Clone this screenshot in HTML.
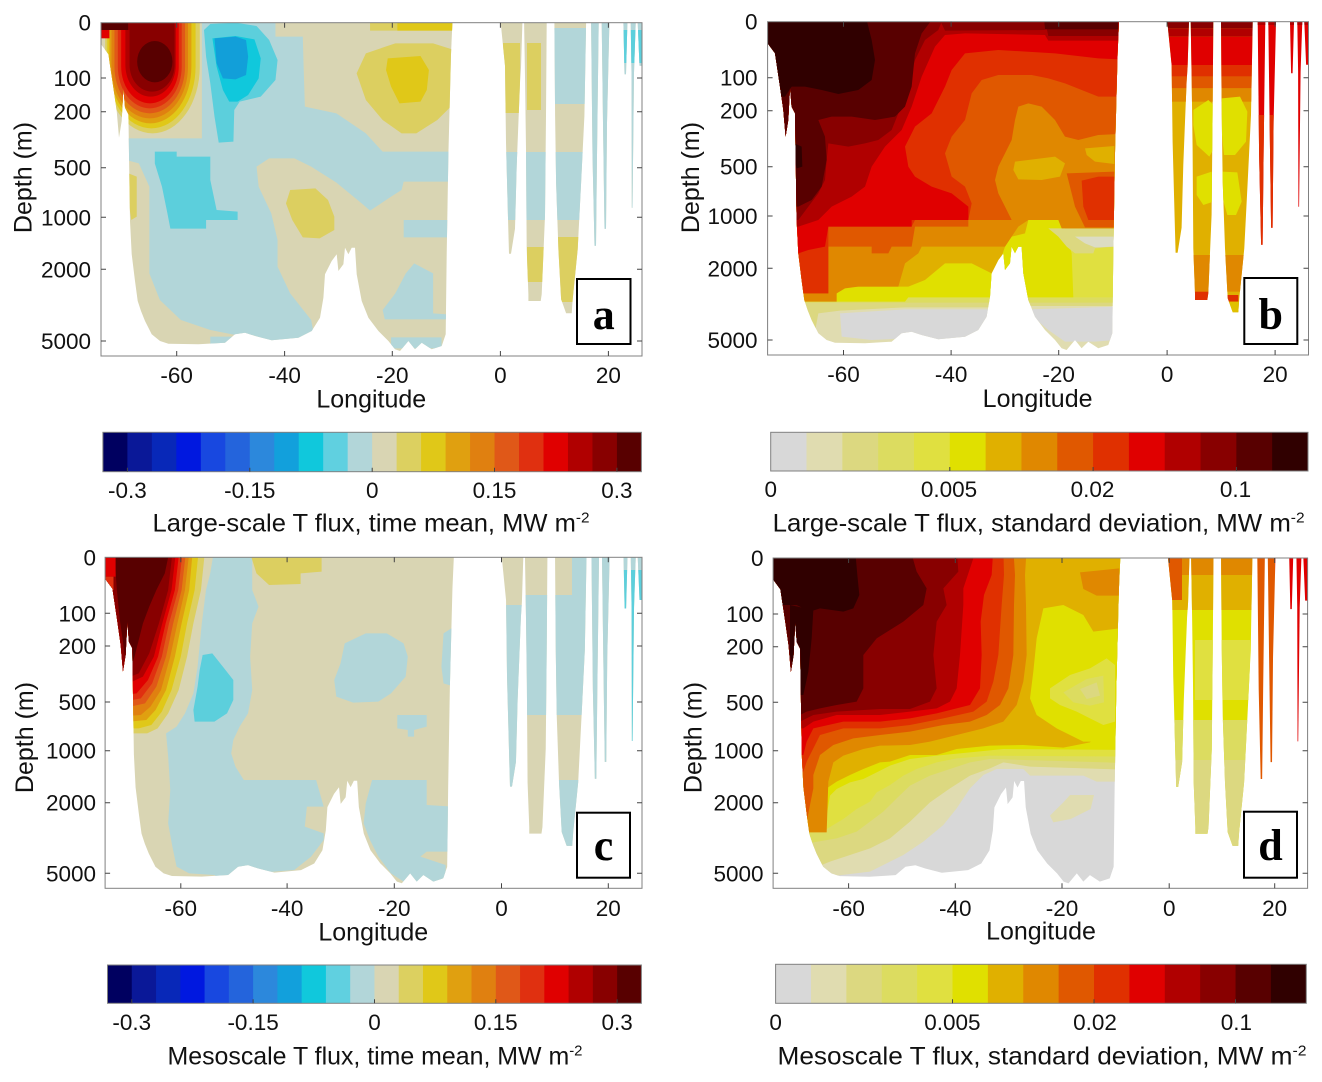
<!DOCTYPE html>
<html><head><meta charset="utf-8"><style>
html,body{margin:0;padding:0;background:#fff;}
svg{display:block;font-family:"Liberation Sans",Arial,sans-serif;}
.t{font-size:22.5px;fill:#111;}
.l{font-size:25px;fill:#111;}
.ax{fill:none;stroke:#808080;stroke-width:1;}
.tk{stroke:#444;stroke-width:1;}
.lt{font-family:"Liberation Serif","Times New Roman",serif;font-weight:bold;font-size:44px;fill:#000;}
</style></head><body>
<svg width="1322" height="1082" viewBox="0 0 1322 1082" xmlns="http://www.w3.org/2000/svg">
<defs>
<path id="m" d="M0,0 L351.4,0 L350,31.6 L347.4,131.6 L345.7,231.6 L344.7,311.6 L340.7,323.3 L330.7,326.6 L320.7,320 L314,326.6 L307.4,318.3 L299,328.3 L294,326.6 L287.4,318.3 L277.4,308.3 L267.4,295 L260.7,278.3 L255.7,251.6 L254,225 L250.7,225 L247.4,231.6 L244,225 L242.4,241.6 L237.4,248.3 L235.7,231.6 L230.7,238.3 L224,251.6 L222.4,275 L219,295 L210.7,308.3 L197.4,315 L170.7,317.6 L154,313.3 L144,310 L134,311.6 L124,320 L97.4,321.6 L67.4,321 L59,318.3 L50.7,311.6 L44,298.3 L40,288.3 L36.7,278.3 L34,258.3 L30.7,231.6 L29,198.3 L27.4,91.6 L24,85 L22.4,65 L20.7,98.3 L18,115 L15.7,88.3 L12.4,65 L7.4,31.6 L0,21.6 Z
M399.7,0 L421.4,0 L420,45 L419,60 L415.7,143 L414,206 L410,231 L408,231 L407.4,210 L405,120 L404,43 Z
M423.1,0 L445.7,0 L445,93 L444,193 L440.7,271.6 L439.7,278.3 L427.4,278.3 L427.4,271.6 L425.7,226.6 L425,126.6 L424.1,60 Z
M453.4,0 L485.1,0 L483.4,93.3 L480.1,160 L476.7,226.6 L471.7,276.6 L470.7,290.6 L465.1,290.6 L460.1,276.6 L457.4,226.6 L455.1,160 L454.1,93.3 Z
M490.1,0 L497.7,0 L496,133 L495,223 L493.5,223 L491.5,133 Z
M500.7,0 L508.4,0 L506,100 L505,206 L503.5,206 L502,100 Z
M522.4,0 L526.4,0 L525,51.6 L523.5,51.6 Z
M529.7,0 L534.7,0 L533,50 L531.5,185 L530.8,185 L530.5,50 Z
M536.7,0 L541,0 L541,43 L538.5,43 Z"/>
<clipPath id="ca"><use href="#m" transform="translate(101,22.7)"/></clipPath>
<clipPath id="cb"><use href="#m" transform="translate(767.6,21.7)"/></clipPath>
<clipPath id="cc"><use href="#m" transform="translate(105.1,557.3) scale(0.9924,0.993)"/></clipPath>
<clipPath id="cd"><use href="#m" transform="translate(773.1,558) scale(0.988,0.991)"/></clipPath>
</defs>

<!-- ================= PANEL A ================= -->
<g clip-path="url(#ca)">
<g transform="matrix(0.4204,0,0,0.33333,0.1,0)">
<rect x="200" y="0" width="1400" height="1100" fill="#d9d5b3"/>
<path fill="#b2d6d9" d="M480,60 L655,60 L655,110 L720,110 L722,200 L725,320 L800,340 L870,400 L910,455 L1080,455 L1080,545 L960,545 L955,570 L930,590 L880,632 L860,610 L800,548 L740,500 L700,475 L640,475 L610,500 L615,560 L645,640 L660,720 L660,800 L690,880 L740,960 L745,995 L745,1020 L640,1022 L600,1005 L560,1005 L500,990 L430,960 L380,900 L355,820 L355,560 L330,490 L300,480 L300,415 L480,415 Z"/>
<path fill="#b2d6d9" d="M985,790 L1030,820 L1030,940 L1080,945 L1080,958 L915,958 L910,930 L940,880 L965,820 Z M960,660 L1080,660 L1080,712 L960,712 Z M930,1012 L1050,1012 L1050,1045 L930,1045 Z M500,1010 L560,1010 L555,1050 L500,1050 Z"/>
<path fill="#5ccfdc" d="M485,90 L500,72 L560,68 L610,78 L640,120 L660,180 L655,240 L620,290 L570,305 L557,330 L555,425 L520,428 L510,350 L500,250 L490,170 Z"/>
<path fill="#10c8dc" d="M505,115 L560,108 L605,118 L620,175 L615,235 L590,285 L565,305 L545,305 L530,270 L515,200 Z"/>
<path fill="#129fd9" d="M510,115 L560,110 L585,120 L590,170 L585,225 L560,238 L530,235 L515,190 Z"/>
<path fill="#5ccfdc" d="M368,455 L420,455 L420,470 L500,470 L500,540 L515,630 L565,635 L565,660 L490,660 L490,686 L405,686 L398,640 L385,560 L368,490 Z"/>
<path fill="#dccf60" d="M690,570 L750,565 L780,600 L795,650 L795,690 L760,715 L720,712 L695,660 L680,610 Z M305,520 L325,530 L325,650 L312,660 L305,600 Z M870,160 L940,130 L1030,130 L1080,150 L1080,310 L1040,360 L990,400 L955,400 L910,360 L870,300 L848,220 Z M880,60 L1080,60 L1080,92 L880,92 Z"/>
<path fill="#e0c818" d="M922,175 L1000,168 L1020,210 L1015,270 L1000,305 L950,310 L930,260 L918,210 Z M945,60 L1080,60 L1080,92 L945,92 Z"/>
<path fill="#dccf60" d="M250,0 L250,200 A112.5,200 0 0 0 475,200 L475,0 Z"/>
<path fill="#e0c818" d="M255,0 L255,200 A105,185 0 0 0 465,200 L465,0 Z"/>
<path fill="#e0a010" d="M260,0 L260,200 A97.5,170 0 0 0 455,200 L455,0 Z"/>
<path fill="#e08010" d="M265,0 L265,200 A91,155 0 0 0 447,200 L447,0 Z"/>
<path fill="#e05818" d="M272,0 L272,200 A84,140 0 0 0 440,200 L440,0 Z"/>
<path fill="#e03010" d="M280,0 L280,200 A76,125 0 0 0 432,200 L432,0 Z"/>
<path fill="#e00000" d="M288,0 L288,200 A68.5,110 0 0 0 425,200 L425,0 Z"/>
<path fill="#b00000" d="M298,0 L298,195 A60,95 0 0 0 418,195 L418,0 Z"/>
<path fill="#880000" d="M308,0 L308,195 A53.5,80 0 0 0 415,195 L415,0 Z"/>
<ellipse cx="368" cy="185" rx="42" ry="62" fill="#580000"/>
<rect x="230" y="55" width="75" height="35" fill="#580000"/>
<rect x="305" y="55" width="30" height="35" fill="#880000"/>
<rect x="230" y="90" width="30" height="25" fill="#e00000"/>
</g>
<rect x="503" y="43" width="17" height="70" fill="#dccf60"/>
<rect x="527" y="43" width="14" height="67" fill="#dccf60"/>
<rect x="498" y="152" width="92" height="68" fill="#b2d6d9"/>
<rect x="552" y="28" width="38" height="76" fill="#b2d6d9"/>
<rect x="527" y="247" width="19" height="35" fill="#dccf60"/>
<rect x="555" y="237" width="30" height="65" fill="#dccf60"/>
<rect x="589" y="22" width="60" height="340" fill="#b2d6d9"/>
<rect x="620" y="30" width="25" height="33" fill="#5ccfdc"/>
</g>

<!-- ================= PANEL B ================= -->
<g clip-path="url(#cb)">
<g transform="matrix(0.33333,0,0,0.33333,765,20)">
<rect x="-20" y="-20" width="1140" height="1100" fill="#e0dcb0"/>
<path fill="#d8d8d8" d="M225,880 L420,868 L670,868 L690,900 L670,940 L600,955 L520,960 L460,950 L420,955 L320,960 L230,950 Z M795,868 L1050,860 L1050,960 L990,965 L900,965 L850,930 L815,900 Z"/>
<path fill="#dcd880" d="M-20,-20 L1100,-20 L1100,858 L795,858 L680,862 L420,862 L225,872 L160,880 L150,935 L-20,935 Z"/>
<path fill="#dcdc60" d="M-20,-20 L1100,-20 L1100,848 L-20,848 Z"/>
<path fill="#e0e040" d="M-20,-20 L1100,-20 L1100,832 L-20,832 Z"/>
<path fill="#e0e000" d="M-20,-20 L1100,-20 L1100,625 L1000,625 L960,648 L905,648 L920,700 L925,832 L700,832 L430,832 L420,845 L215,845 L-20,845 Z"/>
<path fill="#dcd880" d="M850,625 L1048,625 L1048,680 L990,685 L985,700 L930,700 L905,680 L880,650 Z"/>
<path fill="#dcdcc4" d="M930,650 L1048,650 L1048,680 L990,682 L960,670 Z"/>
<path fill="#e0b000" d="M-20,-20 L1100,-20 L1100,625 L900,625 L890,600 L790,600 L780,640 L740,650 L720,680 L700,740 L680,760 L620,730 L540,730 L480,780 L430,800 L240,800 L215,820 L120,820 L-20,820 Z"/>
<path fill="#e08800" d="M-20,-20 L1100,-20 L1100,625 L890,625 L880,600 L790,600 L760,620 L740,650 L720,680 L470,680 L460,700 L420,730 L400,800 L280,800 L240,805 L215,820 L215,845 L-20,845 Z"/>
<path fill="#e0b000" d="M750,425 L870,410 L900,430 L885,470 L830,480 L760,478 L745,450 Z M960,385 L1048,378 L1048,432 L990,425 L965,405 Z"/>
<path fill="#e05800" d="M-20,-20 L1100,-20 L1100,340 L1000,345 L940,360 L900,350 L870,300 L830,260 L790,250 L760,260 L750,300 L740,360 L720,400 L700,440 L690,480 L700,520 L720,560 L740,600 L610,600 L610,620 L450,620 L440,680 L380,680 L370,700 L320,700 L320,680 L190,680 L190,820 L-20,820 Z"/>
<path fill="#e05800" d="M905,460 L1048,455 L1048,622 L960,622 L930,560 Z"/>
<path fill="#e03000" d="M950,482 L1000,470 L1048,470 L1048,600 L970,600 L955,560 Z"/>
<path fill="#e03000" d="M-20,-20 L1100,-20 L1100,230 L1000,230 L950,210 L900,190 L850,175 L800,165 L700,165 L650,180 L620,220 L600,300 L560,350 L540,400 L560,470 L600,500 L620,550 L610,600 L450,600 L440,620 L190,620 L190,820 L-20,820 Z"/>
<path fill="#e00000" d="M-20,-20 L1100,-20 L1100,120 L1000,115 L870,100 L700,90 L600,100 L560,150 L540,200 L500,280 L450,320 L420,380 L430,440 L450,470 L500,500 L560,520 L610,560 L610,600 L440,600 L440,620 L190,620 L180,680 L130,690 L100,700 L-20,700 Z"/>
<path fill="#b00000" d="M-20,-20 L1060,-20 L1060,62 L850,62 L840,45 L600,40 L540,45 L510,80 L470,170 L440,260 L410,330 L360,380 L320,440 L300,500 L260,530 L200,560 L160,600 L100,620 L-20,620 Z"/>
<path fill="#880000" d="M-20,-20 L540,-20 L520,30 L480,60 L450,120 L420,220 L400,280 L380,330 L340,360 L300,370 L250,380 L190,370 L185,420 L180,480 L160,520 L130,560 L100,600 L-20,600 Z M515,-20 L835,-20 L840,30 L540,32 Z M835,-20 L1060,-20 L1060,48 L850,48 Z"/>
<path fill="#580000" d="M-20,-20 L515,-20 L470,40 L450,100 L440,200 L420,260 L390,290 L330,300 L260,290 L200,290 L160,300 L180,350 L185,420 L170,500 L140,540 L100,560 L-20,560 Z M835,-20 L1060,-20 L1060,28 L840,28 Z"/>
<path fill="#300000" d="M-20,-20 L300,-20 L320,60 L330,120 L320,180 L280,210 L220,222 L170,210 L120,200 L80,200 L60,230 L-20,230 Z M88,370 L110,380 L112,440 L95,445 L88,420 Z"/>
</g>
<g transform="matrix(0.33333,0,0,0.33333,1150,15)">
<rect x="40" y="0" width="275" height="1000" fill="#e0b000"/>
<rect x="40" y="0" width="275" height="40" fill="#880000"/>
<rect x="40" y="40" width="275" height="25" fill="#b00000"/>
<rect x="40" y="65" width="275" height="85" fill="#e00000"/>
<rect x="40" y="150" width="275" height="35" fill="#e03000"/>
<rect x="40" y="185" width="275" height="35" fill="#e05800"/>
<rect x="40" y="220" width="275" height="40" fill="#e08800"/>
<path fill="#e0e000" d="M130,285 L175,255 L195,275 L192,400 L178,425 L140,390 L130,330 Z M215,250 L270,245 L292,290 L288,380 L255,420 L222,420 L215,350 Z M140,485 L185,470 L190,560 L160,570 L140,540 Z M215,470 L262,472 L275,560 L258,600 L232,600 L215,540 Z"/>
<rect x="40" y="720" width="275" height="110" fill="#e08800"/>
<rect x="120" y="830" width="80" height="40" fill="#e03000"/>
<rect x="215" y="840" width="50" height="20" fill="#e03000"/>
<rect x="225" y="860" width="45" height="40" fill="#e0c000"/>
<rect x="315" y="0" width="200" height="1000" fill="#e00000"/>
<rect x="315" y="0" width="200" height="30" fill="#b00000"/>
<rect x="315" y="300" width="120" height="700" fill="#e03000"/>
</g>
</g>

<!-- ================= PANEL C ================= -->
<g clip-path="url(#cc)">
<g transform="matrix(0.4204,0,0,0.33333,0,540)">
<rect x="200" y="0" width="1400" height="1100" fill="#d9d5b3"/>
<path fill="#b2d6d9" d="M508,40 L600,40 L600,150 L615,200 L600,250 L595,350 L600,450 L590,520 L570,560 L555,600 L550,640 L560,680 L580,720 L752,720 L770,800 L730,800 L725,860 L770,880 L770,900 L740,950 L700,990 L600,1000 L560,1010 L530,1025 L510,1005 L450,1000 L420,980 L410,920 L400,850 L405,750 L400,650 L395,580 L420,560 L440,520 L460,460 L470,380 L480,250 L490,150 L500,100 Z"/>
<path fill="#5ccfdc" d="M482,345 L505,340 L530,380 L555,420 L555,480 L540,520 L510,545 L463,545 L460,510 L470,440 L475,390 Z"/>
<path fill="#b2d6d9" d="M820,310 L870,280 L920,280 L960,310 L970,350 L965,410 L930,460 L900,485 L840,488 L800,470 L795,420 L810,370 Z M945,525 L1015,525 L1015,560 L985,570 L985,590 L970,590 L970,570 L945,565 Z M885,720 L1015,720 L1015,795 L1080,800 L1080,935 L1015,935 L1000,950 L1060,975 L1060,1010 L1040,1025 L960,1025 L930,1000 L900,950 L880,900 L865,850 L870,790 Z M1055,280 L1080,260 L1080,440 L1055,430 L1050,380 Z"/>
<path fill="#dccf60" d="M595,40 L765,40 L765,95 L715,100 L715,132 L640,135 L610,100 Z"/>
<path fill="#dccf60" d="M240,40 L487,40 L478,150 L460,250 L445,350 L425,450 L400,520 L375,565 L350,580 L280,580 L240,300 Z"/>
<path fill="#e0c818" d="M240,40 L472,40 L463,150 L445,250 L430,350 L408,450 L385,515 L360,555 L330,565 L280,565 L240,300 Z"/>
<path fill="#e0a010" d="M240,40 L458,40 L450,150 L432,250 L416,350 L395,450 L370,510 L348,540 L280,548 L240,300 Z"/>
<path fill="#e08010" d="M240,40 L450,40 L440,150 L422,250 L405,350 L383,450 L358,500 L335,525 L280,530 L240,300 Z"/>
<path fill="#e05818" d="M240,40 L442,40 L432,150 L412,250 L395,350 L372,440 L345,490 L280,508 L240,300 Z"/>
<path fill="#e03010" d="M240,40 L434,40 L424,150 L402,250 L385,350 L362,430 L335,475 L280,488 L240,300 Z"/>
<path fill="#e00000" d="M240,40 L426,40 L416,150 L394,250 L376,350 L352,420 L325,460 L280,468 L240,300 Z"/>
<path fill="#b00000" d="M240,40 L418,40 L408,150 L386,250 L366,350 L340,410 L280,445 L240,300 Z"/>
<path fill="#880000" d="M240,40 L410,40 L400,150 L378,250 L355,340 L330,400 L280,425 L240,300 Z"/>
<path fill="#580000" d="M272,40 L402,40 L392,100 L372,150 L355,200 L340,250 L330,300 L320,350 L310,390 L300,380 L292,300 L285,240 L278,150 Z"/>
<rect x="240" y="40" width="35" height="70" fill="#e00000"/>
<rect x="240" y="110" width="30" height="40" fill="#e03010"/>
</g>
<rect x="500" y="605" width="24" height="300" fill="#b2d6d9"/>
<rect x="524" y="595" width="66" height="120" fill="#b2d6d9"/>
<rect x="553" y="780" width="37" height="120" fill="#b2d6d9"/>
<rect x="572" y="555" width="18" height="40" fill="#b2d6d9"/>
<rect x="589" y="555" width="26" height="345" fill="#b2d6d9"/>
<rect x="615" y="570" width="30" height="330" fill="#5ccfdc"/>
<rect x="615" y="555" width="30" height="15" fill="#b2d6d9"/>
</g>

<!-- ================= PANEL D ================= -->
<g clip-path="url(#cd)">
<g transform="matrix(0.33333,0,0,0.33333,770,555)">
<rect x="-20" y="-20" width="1140" height="1100" fill="#d8d8d8"/>
<path fill="#e0dcb0" d="M-20,-20 L1100,-20 L1100,680 L980,680 L940,662 L780,662 L760,642 L680,642 L640,660 L600,700 L560,760 L520,810 L460,860 L400,900 L340,930 L300,950 L200,962 L-20,962 Z M900,720 L972,720 L962,762 L902,792 L850,802 L840,782 L880,742 Z"/>
<path fill="#dcd880" d="M-20,-20 L1100,-20 L1100,645 L780,635 L700,622 L660,640 L600,662 L540,700 L480,742 L420,800 L360,850 L300,880 L240,900 L180,920 L150,932 L-20,932 Z"/>
<path fill="#dcdc60" d="M-20,-20 L1100,-20 L1100,625 L660,612 L600,622 L540,642 L480,662 L420,692 L380,730 L340,770 L300,800 L260,830 L200,850 L130,862 L-20,862 Z"/>
<path fill="#e0e040" d="M-20,-20 L1100,-20 L1100,605 L660,602 L560,610 L500,622 L440,642 L400,662 L360,690 L320,712 L300,740 L260,762 L220,792 L170,822 L130,832 L-20,832 Z"/>
<path fill="#e0e000" d="M-20,-20 L1100,-20 L1100,585 L700,582 L600,592 L500,602 L420,612 L360,632 L320,652 L280,672 L240,682 L200,702 L180,722 L170,782 L150,812 L-20,812 Z"/>
<path fill="#e0b000" d="M-20,-20 L1100,-20 L1100,520 L1000,520 L960,562 L880,578 L760,570 L660,572 L560,582 L500,600 L420,600 L360,620 L330,622 L280,642 L240,660 L200,680 L170,700 L160,760 L150,812 L-20,812 Z"/>
<path fill="#e0e000" d="M820,160 L880,150 L940,180 L970,230 L1048,220 L1048,560 L940,560 L900,540 L860,520 L800,480 L780,430 L790,350 L800,250 Z"/>
<path fill="#e0e040" d="M840,400 L900,360 L960,340 L1010,310 L1035,330 L1035,500 L1000,510 L960,490 L920,470 L870,450 L840,430 Z"/>
<path fill="#dcdc60" d="M880,412 L950,372 L1000,362 L1002,442 L960,452 L910,442 Z"/>
<path fill="#dcd880" d="M930,402 L980,382 L990,422 L950,432 Z"/>
<path fill="#e08800" d="M-20,-20 L770,-20 L765,60 L768,150 L770,300 L760,380 L740,450 L700,500 L640,520 L560,540 L480,560 L420,570 L330,572 L280,582 L220,602 L190,622 L175,680 L170,832 L-20,832 Z M930,52 L1000,45 L1048,40 L1048,122 L980,122 L940,102 Z"/>
<path fill="#e05800" d="M-20,-20 L730,-20 L735,60 L732,150 L730,300 L715,400 L690,450 L650,480 L600,500 L520,510 L420,530 L330,540 L250,550 L190,570 L150,600 L130,660 L130,700 L110,800 L-20,800 Z"/>
<path fill="#e03000" d="M-20,-20 L700,-20 L702,60 L695,150 L685,300 L670,380 L650,440 L610,470 L520,490 L420,510 L330,520 L220,520 L150,540 L130,580 L110,620 L100,650 L-20,650 Z"/>
<path fill="#e00000" d="M-20,-20 L670,-20 L665,60 L642,120 L632,200 L635,300 L630,400 L600,450 L500,475 L420,490 L330,500 L220,500 L130,520 L110,560 L100,600 L-20,600 Z"/>
<path fill="#b00000" d="M-20,-20 L620,-20 L600,40 L580,100 L580,150 L570,300 L560,400 L540,440 L500,460 L420,470 L330,480 L200,480 L130,500 L100,520 L-20,520 Z"/>
<path fill="#880000" d="M-20,-20 L560,-20 L565,50 L520,100 L530,150 L500,200 L490,300 L500,400 L480,440 L420,462 L330,462 L200,470 L130,480 L90,500 L-20,500 Z"/>
<path fill="#580000" d="M-20,-20 L420,-20 L440,50 L470,100 L460,150 L400,200 L320,250 L280,300 L280,400 L260,440 L200,450 L150,460 L110,470 L90,480 L-20,480 Z"/>
<path fill="#300000" d="M-20,-20 L255,-20 L262,60 L268,120 L250,160 L220,170 L150,160 L120,170 L80,150 L-20,150 Z M60,150 L130,165 L125,250 L115,350 L100,420 L90,420 L60,300 Z"/>
</g>
<rect x="1160" y="555" width="95" height="350" fill="#e0e000"/>
<rect x="1160" y="555" width="95" height="20" fill="#e08800"/>
<rect x="1160" y="575" width="95" height="35" fill="#e0b000"/>
<rect x="1160" y="555" width="22" height="45" fill="#e05800"/>
<rect x="1195" y="640" width="55" height="60" fill="#e0e040"/>
<rect x="1160" y="720" width="95" height="40" fill="#dcdc60"/>
<rect x="1160" y="760" width="95" height="145" fill="#dcd880"/>
<rect x="1255" y="555" width="20" height="350" fill="#e05800"/>
<rect x="1275" y="555" width="40" height="350" fill="#e00000"/>
</g>

<!-- ================= AXES ================= -->
<!-- A -->
<rect class="ax" x="101" y="22.7" width="541" height="333.3"/>
<path class="tk" d="M101,78h5M101,111.7h5M101,167.7h5M101,217.3h5M101,269.3h5M101,341h5M642,78h-5M642,111.7h-5M642,167.7h-5M642,217.3h-5M642,269.3h-5M642,341h-5M176.7,356v-5M284.6,356v-5M392.3,356v-5M500.4,356v-5M608.4,356v-5M176.7,22.7v5M284.6,22.7v5M392.3,22.7v5M500.4,22.7v5M608.4,22.7v5"/>
<g class="t" text-anchor="end">
<text x="91" y="30.7">0</text><text x="91" y="86">100</text><text x="91" y="119.7">200</text><text x="91" y="175.7">500</text><text x="91" y="225.3">1000</text><text x="91" y="277.3">2000</text><text x="91" y="349">5000</text>
</g>
<g class="t" text-anchor="middle">
<text x="176.7" y="383">-60</text><text x="284.6" y="383">-40</text><text x="392.3" y="383">-20</text><text x="500.4" y="383">0</text><text x="608.4" y="383">20</text>
</g>
<text class="l" x="371.3" y="407.5" text-anchor="middle">Longitude</text>
<text class="l" transform="translate(31.5,177.5) rotate(-90)" text-anchor="middle">Depth (m)</text>
<rect x="577" y="279" width="53.5" height="65" fill="#fff" stroke="#000" stroke-width="2"/>
<text class="lt" x="603.7" y="329" text-anchor="middle">a</text>

<!-- B -->
<rect class="ax" x="767.6" y="21.7" width="540.9" height="333.3"/>
<path class="tk" d="M767.6,77.7h5M767.6,110.7h5M767.6,166.7h5M767.6,216h5M767.6,268.3h5M767.6,340h5M1308.5,77.7h-5M1308.5,110.7h-5M1308.5,166.7h-5M1308.5,216h-5M1308.5,268.3h-5M1308.5,340h-5M843.5,355v-5M951.1,355v-5M1058.7,355v-5M1167.1,355v-5M1275.1,355v-5M843.5,21.7v5M951.1,21.7v5M1058.7,21.7v5M1167.1,21.7v5M1275.1,21.7v5"/>
<g class="t" text-anchor="end">
<text x="757.5" y="29.7">0</text><text x="757.5" y="85.7">100</text><text x="757.5" y="118.7">200</text><text x="757.5" y="174.7">500</text><text x="757.5" y="224">1000</text><text x="757.5" y="276.3">2000</text><text x="757.5" y="348">5000</text>
</g>
<g class="t" text-anchor="middle">
<text x="843.5" y="382">-60</text><text x="951.1" y="382">-40</text><text x="1058.7" y="382">-20</text><text x="1167.1" y="382">0</text><text x="1275.1" y="382">20</text>
</g>
<text class="l" x="1037.6" y="407" text-anchor="middle">Longitude</text>
<text class="l" transform="translate(699,177.5) rotate(-90)" text-anchor="middle">Depth (m)</text>
<rect x="1244.3" y="278" width="53" height="66" fill="#fff" stroke="#000" stroke-width="2"/>
<text class="lt" x="1270.8" y="329" text-anchor="middle">b</text>

<!-- C -->
<rect class="ax" x="105.1" y="557.3" width="536.9" height="331"/>
<path class="tk" d="M105.1,613.3h5M105.1,646h5M105.1,702h5M105.1,750.7h5M105.1,802.7h5M105.1,873.3h5M642,613.3h-5M642,646h-5M642,702h-5M642,750.7h-5M642,802.7h-5M642,873.3h-5M180.8,888.3v-5M287.1,888.3v-5M394.3,888.3v-5M501.5,888.3v-5M608.3,888.3v-5M180.8,557.3v5M287.1,557.3v5M394.3,557.3v5M501.5,557.3v5M608.3,557.3v5"/>
<g class="t" text-anchor="end">
<text x="96" y="565.3">0</text><text x="96" y="621.3">100</text><text x="96" y="654">200</text><text x="96" y="710">500</text><text x="96" y="758.7">1000</text><text x="96" y="810.7">2000</text><text x="96" y="881.3">5000</text>
</g>
<g class="t" text-anchor="middle">
<text x="180.8" y="916">-60</text><text x="287.1" y="916">-40</text><text x="394.3" y="916">-20</text><text x="501.5" y="916">0</text><text x="608.3" y="916">20</text>
</g>
<text class="l" x="373.3" y="940.5" text-anchor="middle">Longitude</text>
<text class="l" transform="translate(33,737.5) rotate(-90)" text-anchor="middle">Depth (m)</text>
<rect x="577" y="812.7" width="53" height="65" fill="#fff" stroke="#000" stroke-width="2"/>
<text class="lt" x="603.5" y="860" text-anchor="middle">c</text>

<!-- D -->
<rect class="ax" x="773.1" y="558" width="534.5" height="330.3"/>
<path class="tk" d="M773.1,614h5M773.1,646.7h5M773.1,702.3h5M773.1,750.7h5M773.1,802.7h5M773.1,873.3h5M1307.6,614h-5M1307.6,646.7h-5M1307.6,702.3h-5M1307.6,750.7h-5M1307.6,802.7h-5M1307.6,873.3h-5M848.6,888.3v-5M955.3,888.3v-5M1062,888.3v-5M1169.2,888.3v-5M1274.7,888.3v-5M848.6,558v5M955.3,558v5M1062,558v5M1169.2,558v5M1274.7,558v5"/>
<g class="t" text-anchor="end">
<text x="763.5" y="566">0</text><text x="763.5" y="622">100</text><text x="763.5" y="654.7">200</text><text x="763.5" y="710.3">500</text><text x="763.5" y="758.7">1000</text><text x="763.5" y="810.7">2000</text><text x="763.5" y="881.3">5000</text>
</g>
<g class="t" text-anchor="middle">
<text x="848.6" y="916">-60</text><text x="955.3" y="916">-40</text><text x="1062" y="916">-20</text><text x="1169.2" y="916">0</text><text x="1274.7" y="916">20</text>
</g>
<text class="l" x="1041" y="939.5" text-anchor="middle">Longitude</text>
<text class="l" transform="translate(701.5,737.5) rotate(-90)" text-anchor="middle">Depth (m)</text>
<rect x="1244" y="811.7" width="53" height="66" fill="#fff" stroke="#000" stroke-width="2"/>
<text class="lt" x="1270.5" y="860" text-anchor="middle">d</text>

<!-- ================= COLORBARS ================= -->
<!-- A -->
<g>
<rect x="102.9" y="432.3" width="25" height="39.4" fill="#000060"/>
<rect x="127.38" y="432.3" width="25" height="39.4" fill="#0a1898"/>
<rect x="151.85" y="432.3" width="25" height="39.4" fill="#0828b8"/>
<rect x="176.33" y="432.3" width="25" height="39.4" fill="#0018e0"/>
<rect x="200.81" y="432.3" width="25" height="39.4" fill="#1848e0"/>
<rect x="225.29" y="432.3" width="25" height="39.4" fill="#2464dc"/>
<rect x="249.76" y="432.3" width="25" height="39.4" fill="#2c88dc"/>
<rect x="274.24" y="432.3" width="25" height="39.4" fill="#12a0dc"/>
<rect x="298.72" y="432.3" width="25" height="39.4" fill="#10c8dc"/>
<rect x="323.19" y="432.3" width="25" height="39.4" fill="#60d0e0"/>
<rect x="347.67" y="432.3" width="25" height="39.4" fill="#b2d6d9"/>
<rect x="372.15" y="432.3" width="25" height="39.4" fill="#d9d5b3"/>
<rect x="396.62" y="432.3" width="25" height="39.4" fill="#dcd060"/>
<rect x="421.1" y="432.3" width="25" height="39.4" fill="#e0c818"/>
<rect x="445.58" y="432.3" width="25" height="39.4" fill="#e0a010"/>
<rect x="470.06" y="432.3" width="25" height="39.4" fill="#e08010"/>
<rect x="494.53" y="432.3" width="25" height="39.4" fill="#e05818"/>
<rect x="519.01" y="432.3" width="25" height="39.4" fill="#e03010"/>
<rect x="543.49" y="432.3" width="25" height="39.4" fill="#e00000"/>
<rect x="567.96" y="432.3" width="25" height="39.4" fill="#b00000"/>
<rect x="592.44" y="432.3" width="25" height="39.4" fill="#880000"/>
<rect x="616.92" y="432.3" width="24.48" height="39.4" fill="#580000"/>
<rect class="ax" x="102.9" y="432.3" width="538.5" height="39.4"/>
<path class="tk" d="M127.4,471.7v-4M249.8,471.7v-4M372.2,471.7v-4M494.5,471.7v-4M616.9,471.7v-4"/>
<g class="t" text-anchor="middle">
<text x="127.4" y="498">-0.3</text><text x="249.8" y="498">-0.15</text><text x="372.2" y="498">0</text><text x="494.5" y="498">0.15</text><text x="616.9" y="498">0.3</text>
</g>
<text class="l" x="371" y="531.5" text-anchor="middle" textLength="437" lengthAdjust="spacingAndGlyphs">Large-scale T flux, time mean, MW m<tspan dy="-9" font-size="15">-2</tspan></text>
</g>
<!-- B -->
<g>
<rect x="770.7" y="432.3" width="36.3" height="38.7" fill="#d8d8d8"/>
<rect x="806.52" y="432.3" width="36.3" height="38.7" fill="#e0dcb0"/>
<rect x="842.34" y="432.3" width="36.3" height="38.7" fill="#dcd880"/>
<rect x="878.16" y="432.3" width="36.3" height="38.7" fill="#dcdc60"/>
<rect x="913.98" y="432.3" width="36.3" height="38.7" fill="#e0e040"/>
<rect x="949.8" y="432.3" width="36.3" height="38.7" fill="#e0e000"/>
<rect x="985.62" y="432.3" width="36.3" height="38.7" fill="#e0b000"/>
<rect x="1021.44" y="432.3" width="36.3" height="38.7" fill="#e08800"/>
<rect x="1057.26" y="432.3" width="36.3" height="38.7" fill="#e05800"/>
<rect x="1093.08" y="432.3" width="36.3" height="38.7" fill="#e03000"/>
<rect x="1128.9" y="432.3" width="36.3" height="38.7" fill="#e00000"/>
<rect x="1164.72" y="432.3" width="36.3" height="38.7" fill="#b00000"/>
<rect x="1200.54" y="432.3" width="36.3" height="38.7" fill="#880000"/>
<rect x="1236.36" y="432.3" width="36.3" height="38.7" fill="#580000"/>
<rect x="1272.18" y="432.3" width="35.82" height="38.7" fill="#300000"/>
<rect class="ax" x="770.7" y="432.3" width="537.3" height="38.7"/>
<path class="tk" d="M949.8,471v-4M1093.1,471v-4M1236.4,471v-4"/>
<g class="t" text-anchor="middle">
<text x="770.7" y="497">0</text><text x="949" y="497">0.005</text><text x="1092.5" y="497">0.02</text><text x="1235.5" y="497">0.1</text>
</g>
<text class="l" x="1038.6" y="531.5" text-anchor="middle" textLength="532" lengthAdjust="spacingAndGlyphs">Large-scale T flux, standard deviation, MW m<tspan dy="-9" font-size="15">-2</tspan></text>
</g>
<!-- C -->
<g>
<rect x="107.5" y="965" width="25" height="38.3" fill="#000060"/>
<rect x="131.77" y="965" width="25" height="38.3" fill="#0a1898"/>
<rect x="156.04" y="965" width="25" height="38.3" fill="#0828b8"/>
<rect x="180.3" y="965" width="25" height="38.3" fill="#0018e0"/>
<rect x="204.57" y="965" width="25" height="38.3" fill="#1848e0"/>
<rect x="228.84" y="965" width="25" height="38.3" fill="#2464dc"/>
<rect x="253.11" y="965" width="25" height="38.3" fill="#2c88dc"/>
<rect x="277.38" y="965" width="25" height="38.3" fill="#12a0dc"/>
<rect x="301.64" y="965" width="25" height="38.3" fill="#10c8dc"/>
<rect x="325.91" y="965" width="25" height="38.3" fill="#60d0e0"/>
<rect x="350.18" y="965" width="25" height="38.3" fill="#b2d6d9"/>
<rect x="374.45" y="965" width="25" height="38.3" fill="#d9d5b3"/>
<rect x="398.72" y="965" width="25" height="38.3" fill="#dcd060"/>
<rect x="422.98" y="965" width="25" height="38.3" fill="#e0c818"/>
<rect x="447.25" y="965" width="25" height="38.3" fill="#e0a010"/>
<rect x="471.52" y="965" width="25" height="38.3" fill="#e08010"/>
<rect x="495.79" y="965" width="25" height="38.3" fill="#e05818"/>
<rect x="520.06" y="965" width="25" height="38.3" fill="#e03010"/>
<rect x="544.32" y="965" width="25" height="38.3" fill="#e00000"/>
<rect x="568.59" y="965" width="25" height="38.3" fill="#b00000"/>
<rect x="592.86" y="965" width="25" height="38.3" fill="#880000"/>
<rect x="617.13" y="965" width="24.27" height="38.3" fill="#580000"/>
<rect class="ax" x="107.5" y="965" width="533.9" height="38.3"/>
<path class="tk" d="M131.8,1003.3v-4M253.1,1003.3v-4M374.5,1003.3v-4M495.8,1003.3v-4M617.1,1003.3v-4"/>
<g class="t" text-anchor="middle">
<text x="131.8" y="1030">-0.3</text><text x="253.1" y="1030">-0.15</text><text x="374.5" y="1030">0</text><text x="495.8" y="1030">0.15</text><text x="617.1" y="1030">0.3</text>
</g>
<text class="l" x="375" y="1064.5" text-anchor="middle" textLength="415" lengthAdjust="spacingAndGlyphs">Mesoscale T flux, time mean, MW m<tspan dy="-9" font-size="15">-2</tspan></text>
</g>
<!-- D -->
<g>
<rect x="775.6" y="964.3" width="36" height="39" fill="#d8d8d8"/>
<rect x="810.98" y="964.3" width="36" height="39" fill="#e0dcb0"/>
<rect x="846.36" y="964.3" width="36" height="39" fill="#dcd880"/>
<rect x="881.74" y="964.3" width="36" height="39" fill="#dcdc60"/>
<rect x="917.12" y="964.3" width="36" height="39" fill="#e0e040"/>
<rect x="952.5" y="964.3" width="36" height="39" fill="#e0e000"/>
<rect x="987.88" y="964.3" width="36" height="39" fill="#e0b000"/>
<rect x="1023.26" y="964.3" width="36" height="39" fill="#e08800"/>
<rect x="1058.64" y="964.3" width="36" height="39" fill="#e05800"/>
<rect x="1094.02" y="964.3" width="36" height="39" fill="#e03000"/>
<rect x="1129.4" y="964.3" width="36" height="39" fill="#e00000"/>
<rect x="1164.78" y="964.3" width="36" height="39" fill="#b00000"/>
<rect x="1200.16" y="964.3" width="36" height="39" fill="#880000"/>
<rect x="1235.54" y="964.3" width="36" height="39" fill="#580000"/>
<rect x="1270.92" y="964.3" width="35.38" height="39" fill="#300000"/>
<rect class="ax" x="775.6" y="964.3" width="530.7" height="39"/>
<path class="tk" d="M952.5,1003.3v-4M1094,1003.3v-4M1235.5,1003.3v-4"/>
<g class="t" text-anchor="middle">
<text x="775.6" y="1030">0</text><text x="952.4" y="1030">0.005</text><text x="1095" y="1030">0.02</text><text x="1236.4" y="1030">0.1</text>
</g>
<text class="l" x="1042" y="1064.5" text-anchor="middle" textLength="529" lengthAdjust="spacingAndGlyphs">Mesoscale T flux, standard deviation, MW m<tspan dy="-9" font-size="15">-2</tspan></text>
</g>
</svg>
</body></html>
